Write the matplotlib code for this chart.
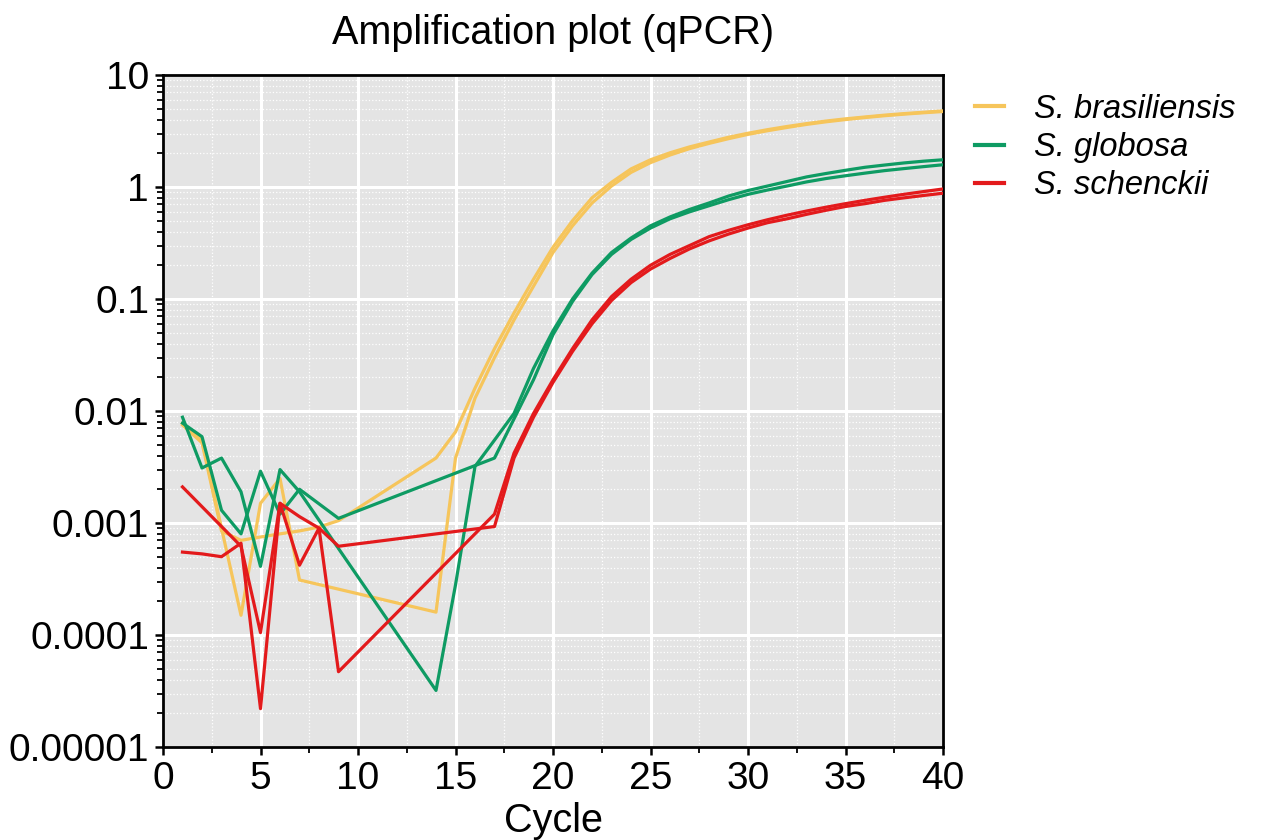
import matplotlib
matplotlib.use("Agg")
import matplotlib.pyplot as plt
from matplotlib.ticker import FixedLocator, FixedFormatter, LogLocator, MultipleLocator, NullFormatter

plt.rcParams['font.family'] = ['Liberation Sans', 'DejaVu Sans']

# qPCR amplification data, two replicates per species
# (cycles missing from a replicate are simply skipped, the line joins across)
bras_1_cyc = [1, 2, 3, 4, 5, 6, 7, 8, 9, 14, 15, 16, 17, 18, 19, 20, 21, 22, 23, 24, 25, 26, 27,
              28, 29, 30, 31, 32, 33, 34, 35, 36, 37, 38, 39, 40]
bras_1_val = [0.0075, 0.0052, 0.00085, 0.0007, 0.00075, 0.0008, 0.00085, 0.00092, 0.00105,
              0.0038, 0.0065, 0.016, 0.036, 0.075, 0.15, 0.29, 0.5, 0.8, 1.1, 1.45, 1.75, 2.02,
              2.28, 2.52, 2.78, 3.02, 3.25, 3.47, 3.68, 3.88, 4.06, 4.22, 4.38, 4.52, 4.65, 4.78]
bras_2_cyc = [1, 2, 3, 4, 5, 6, 7, 14, 15, 16, 17, 18, 19, 20, 21, 22, 23, 24, 25, 26, 27, 28,
              29, 30, 31, 32, 33, 34, 35, 36, 37, 38, 39, 40]
bras_2_val = [0.0078, 0.0055, 0.0009, 0.00015, 0.0015, 0.0025, 0.00031, 0.00016, 0.0038, 0.013,
              0.03, 0.065, 0.13, 0.26, 0.45, 0.72, 1.02, 1.35, 1.65, 1.93, 2.2, 2.45, 2.7, 2.95,
              3.18, 3.4, 3.62, 3.82, 4.0, 4.17, 4.33, 4.47, 4.6, 4.72]

glob_1_cyc = [1, 2, 3, 4, 5, 6, 7, 14, 15, 16, 17, 18, 19, 20, 21, 22, 23, 24, 25, 26, 27, 28,
              29, 30, 31, 32, 33, 34, 35, 36, 37, 38, 39, 40]
glob_1_val = [0.0088, 0.0031, 0.0038, 0.0019, 0.00041, 0.003, 0.0019, 0.000032, 0.00028, 0.0032,
              0.0055, 0.0095, 0.024, 0.052, 0.1, 0.17, 0.26, 0.35, 0.45, 0.54, 0.63, 0.72, 0.83,
              0.93, 1.02, 1.12, 1.23, 1.32, 1.41, 1.5, 1.57, 1.64, 1.7, 1.75]
glob_2_cyc = [1, 2, 3, 4, 5, 6, 7, 9, 17, 18, 19, 20, 21, 22, 23, 24, 25, 26, 27, 28, 29, 30,
              31, 32, 33, 34, 35, 36, 37, 38, 39, 40]
glob_2_val = [0.0078, 0.0059, 0.0013, 0.0008, 0.0029, 0.0012, 0.002, 0.0011, 0.0038, 0.0085,
              0.019, 0.048, 0.095, 0.165, 0.25, 0.34, 0.43, 0.52, 0.6, 0.68, 0.77, 0.86, 0.94,
              1.02, 1.11, 1.19, 1.26, 1.33, 1.4, 1.46, 1.52, 1.58]

sche_1_cyc = [1, 4, 5, 6, 7, 8, 9, 17, 18, 19, 20, 21, 22, 23, 24, 25, 26, 27, 28, 29, 30, 31,
              32, 33, 34, 35, 36, 37, 38, 39, 40]
sche_1_val = [0.0021, 0.00062, 0.000105, 0.0015, 0.00042, 0.0009, 0.000047, 0.0012, 0.0042,
              0.0095, 0.019, 0.036, 0.065, 0.105, 0.15, 0.2, 0.25, 0.3, 0.36, 0.41, 0.46, 0.51,
              0.56, 0.61, 0.66, 0.71, 0.76, 0.81, 0.86, 0.91, 0.96]
sche_2_cyc = [1, 2, 3, 4, 5, 6, 7, 8, 9, 17, 18, 19, 20, 21, 22, 23, 24, 25, 26, 27, 28, 29, 30,
              31, 32, 33, 34, 35, 36, 37, 38, 39, 40]
sche_2_val = [0.00055, 0.00053, 0.0005, 0.00066, 0.000022, 0.0015, 0.00114, 0.0009, 0.00062,
              0.00093, 0.0038, 0.0088, 0.018, 0.034, 0.06, 0.097, 0.14, 0.185, 0.23, 0.28, 0.33,
              0.38, 0.43, 0.48, 0.52, 0.57, 0.62, 0.67, 0.71, 0.76, 0.8, 0.84, 0.88]

species = ['S. brasiliensis', 'S. globosa', 'S. schenckii']
colors = ['#f6c55b', '#0e9b63', '#e31a1c']

y_ticks = [1e-5, 1e-4, 1e-3, 1e-2, 1e-1, 1, 10]
y_labels = ['0.00001', '0.0001', '0.001', '0.01', '0.1', '1', '10']

fig = plt.figure(figsize=(12.66, 8.4), dpi=100)
ax = fig.add_axes([163 / 1266, 1 - 747 / 840, 780 / 1266, 672 / 840])
ax.set_facecolor('#e4e4e4')

reps = [[(bras_1_cyc, bras_1_val), (bras_2_cyc, bras_2_val)],
        [(glob_1_cyc, glob_1_val), (glob_2_cyc, glob_2_val)],
        [(sche_1_cyc, sche_1_val), (sche_2_cyc, sche_2_val)]]

for name, col, pair in zip(species, colors, reps):
    for i, (cyc, val) in enumerate(pair):
        ax.plot(cyc, val, color=col, lw=2.3, label=name if i == 0 else None, zorder=3)

ax.set_yscale('log')
ax.set_xlim(0, 40)
ax.set_ylim(1e-5, 10)

ax.xaxis.set_major_locator(MultipleLocator(5))
ax.xaxis.set_minor_locator(MultipleLocator(2.5))
ax.yaxis.set_major_locator(FixedLocator(y_ticks))
ax.yaxis.set_major_formatter(FixedFormatter(y_labels))
ax.yaxis.set_minor_locator(LogLocator(base=10, subs=range(2, 10)))
ax.yaxis.set_minor_formatter(NullFormatter())

# grid: solid white major, dotted white minor
ax.grid(which='major', color='white', lw=2.2, zorder=1)
ax.grid(which='minor', color='white', lw=0.9, ls=':', zorder=1)
ax.set_axisbelow(True)

for sp in ax.spines.values():
    sp.set_color('black')
    sp.set_linewidth(2)

ax.tick_params(which='major', direction='out', length=6, width=1.8, labelsize=28, pad=4)
ax.tick_params(which='minor', direction='out', length=4, width=1.3)

ax.set_title('Amplification plot (qPCR)', fontsize=28.5, pad=22)
ax.set_xlabel('Cycle', fontsize=28.5, labelpad=4)

leg = ax.legend(loc='upper left', bbox_to_anchor=(1.041, 0.972), frameon=False,
                prop={'style': 'italic', 'size': 23.5}, handlelength=0.9,
                handletextpad=0.9, labelspacing=0.22, borderpad=0, borderaxespad=0)
for h in leg.get_lines():
    h.set_linewidth(3)

fig.savefig('out.png', dpi=100)
